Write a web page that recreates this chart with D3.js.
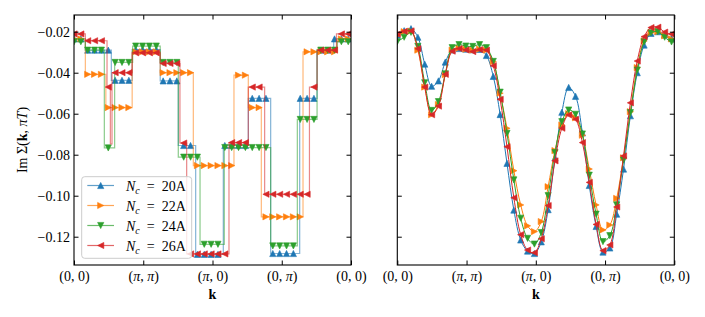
<!DOCTYPE html>
<html>
<head>
<meta charset="utf-8">
<script src="https://cdn.jsdelivr.net/npm/d3@7"></script>
<style>
    body { margin: 0; background: #fff; }
    svg text { font-family: "Liberation Serif", "DejaVu Serif", serif; font-size: 14px; fill: #000; }
</style>
</head>
<body>
<div id="chart"></div>
<script>
// series
const clusters = ["20A", "22A", "24A", "26A"];
const colors = ["#1f77b4", "#ff7f0e", "#2ca02c", "#d62728"];
const markerTypes = ["up", "right", "down", "left"];

// axis ticks
const kTicks = [0, 1, 2, 3, 4];
const kTickLabels = ["(0, 0)", "(π, π)", "(π, 0)", "(0, π)", "(0, 0)"];
const yTicks = [-0.12, -0.10, -0.08, -0.06, -0.04, -0.02];

// left panel: piecewise constant cluster self-energy (patch edges along k, level per patch)
const edges20 = [0, 0.164, 0.539, 0.84, 1.245, 1.506, 1.757, 2.156, 2.517, 2.84, 3.259, 3.51, 3.75];
const levels20 = [-0.0235, -0.029, -0.0437, -0.0287, -0.044, -0.0755, -0.1286, -0.0755, -0.0525, -0.1282, -0.0525, -0.029, -0.0235];

const edges22 = [0, 0.164, 0.46, 0.84, 1.245, 1.723, 2.31, 2.517, 2.705, 3.307, 3.80];
const levels22 = [-0.0235, -0.0408, -0.057, -0.0298, -0.040, -0.0853, -0.0412, -0.057, -0.1103, -0.0298, -0.0235];

const edges24 = [0, 0.164, 0.438, 0.587, 0.847, 1.245, 1.506, 1.82, 2.17, 2.84, 3.225, 3.51, 3.80];
const levels24 = [-0.0249, -0.029, -0.0767, -0.035, -0.027, -0.035, -0.0812, -0.1237, -0.0765, -0.1245, -0.0628, -0.029, -0.0249];

const edges26 = [0, 0.164, 0.477, 0.525, 0.549, 0.84, 1.245, 1.53, 1.627, 2.238, 2.517, 2.753, 3.40, 3.51, 3.79];
const levels26 = [-0.0211, -0.0244, -0.047, -0.0747, -0.040, -0.0303, -0.0355, -0.0743, -0.1284, -0.0741, -0.047, -0.0993, -0.047, -0.029, -0.0211];

// right panel: interpolated self-energy at the marker points, last value is k = 4
const interp20 = [-0.0217, -0.0195, -0.0185, -0.0227, -0.0358, -0.0466, -0.0440, -0.0348, -0.0289, -0.0282,
    -0.0285, -0.0288, -0.0286, -0.0316, -0.0418, -0.0604, -0.0842, -0.1070, -0.1216, -0.1270,
    -0.1282, -0.1225, -0.1068, -0.0815, -0.0593, -0.0472, -0.0515, -0.0694, -0.0950, -0.1150,
    -0.1275, -0.1255, -0.1090, -0.0870, -0.0610, -0.0400, -0.0265, -0.0208, -0.0200, -0.0215,
    -0.0232, -0.0235];
const interp22 = [-0.0217, -0.0200, -0.0197, -0.0290, -0.0470, -0.0605, -0.0555, -0.0410, -0.0290, -0.0280,
    -0.0285, -0.0290, -0.0285, -0.0290, -0.0346, -0.0500, -0.0671, -0.0878, -0.1045, -0.1147,
    -0.1175, -0.1126, -0.0956, -0.0780, -0.0655, -0.0600, -0.0620, -0.0705, -0.0870, -0.1045,
    -0.1167, -0.1143, -0.1013, -0.0815, -0.0590, -0.0375, -0.0245, -0.0205, -0.0200, -0.0220,
    -0.0235, -0.0237];
const interp24 = [-0.0249, -0.0227, -0.0203, -0.0272, -0.0449, -0.0584, -0.0541, -0.0405, -0.0278, -0.0263,
    -0.0270, -0.0272, -0.0263, -0.0278, -0.0345, -0.0495, -0.0696, -0.0923, -0.1110, -0.1208,
    -0.1236, -0.1180, -0.1000, -0.0790, -0.0639, -0.0582, -0.0603, -0.0699, -0.0900, -0.1090,
    -0.1224, -0.1195, -0.1045, -0.0826, -0.0595, -0.0387, -0.0250, -0.0205, -0.0200, -0.0227,
    -0.0250, -0.0250];
const interp26 = [-0.0212, -0.0198, -0.0196, -0.0283, -0.0470, -0.0605, -0.0563, -0.0408, -0.0295, -0.0282,
    -0.0289, -0.0297, -0.0287, -0.0290, -0.0366, -0.0530, -0.0761, -0.1010, -0.1190, -0.1265,
    -0.1278, -0.1210, -0.1048, -0.0830, -0.0671, -0.0606, -0.0627, -0.0741, -0.0935, -0.1140,
    -0.1268, -0.1240, -0.1055, -0.0806, -0.0547, -0.0343, -0.0224, -0.0180, -0.0178, -0.0202,
    -0.0212, -0.0212];

const stepEdges = [edges20, edges22, edges24, edges26];
const stepLevels = [levels20, levels22, levels24, levels26];
const interpValues = [interp20, interp22, interp24, interp26];

// marker sampling along the k path
const markerStep = 0.099;
const markerK = d3.range(41).map(j => j * markerStep);
const lineK = markerK.concat([4]);

const width = 705, height = 317;
const plotTop = 15, plotBottom = 265;

const svg = d3.select("#chart").append("svg")
    .attr("width", width)
    .attr("height", height);

const y = d3.scaleLinear().domain([-0.1338, -0.01185]).range([plotBottom, plotTop]);
const xLeft = d3.scaleLinear().domain([0, 4]).range([74, 351]);
const xRight = d3.scaleLinear().domain([0, 4]).range([397.3, 674.3]);

function markerPath(type, r) {
    if (type === "up") return `M0,${-r}L${r},${r}L${-r},${r}Z`;
    if (type === "down") return `M0,${r}L${r},${-r}L${-r},${-r}Z`;
    if (type === "right") return `M${r},0L${-r},${-r}L${-r},${r}Z`;
    return `M${-r},0L${r},${-r}L${r},${r}Z`;
}

function stepValue(edges, levels, k) {
    const i = d3.bisectRight(edges, k) - 1;
    return levels[Math.max(0, i)];
}

// clip regions
const defs = svg.append("defs");
[xLeft, xRight].forEach((x, p) => {
    defs.append("clipPath").attr("id", "clip" + p)
        .append("rect")
        .attr("x", x.range()[0]).attr("y", plotTop)
        .attr("width", x.range()[1] - x.range()[0]).attr("height", plotBottom - plotTop);
});

// left panel: step lines
const stepLine = d3.line()
    .x(d => xLeft(d[0]))
    .y(d => y(d[1]))
    .curve(d3.curveStepAfter);

const leftG = svg.append("g").attr("clip-path", "url(#clip0)");
clusters.forEach((c, s) => {
    const edges = stepEdges[s], levels = stepLevels[s];
    const pts = edges.map((e, i) => [e, levels[i]]).concat([[4, levels[levels.length - 1]]]);
    const g = leftG.append("g");
    g.append("path")
        .attr("d", stepLine(pts))
        .attr("fill", "none")
        .attr("stroke", colors[s])
        .attr("stroke-width", 1.2)
        .attr("stroke-opacity", 0.55);
    g.selectAll("path.mk")
        .data(markerK)
        .join("path")
        .attr("class", "mk")
        .attr("transform", k => `translate(${xLeft(k)},${y(stepValue(edges, levels, k))})`)
        .attr("d", markerPath(markerTypes[s], 3.1))
        .attr("fill", colors[s])
        .attr("stroke", colors[s])
        .attr("stroke-width", 0.6);
});

// right panel: smooth lines
const smoothLine = d3.line()
    .x((d, i) => xRight(lineK[i]))
    .y(d => y(d))
    .curve(d3.curveCatmullRom.alpha(0.5));

const rightG = svg.append("g").attr("clip-path", "url(#clip1)");
clusters.forEach((c, s) => {
    const vals = interpValues[s];
    const g = rightG.append("g");
    g.append("path")
        .attr("d", smoothLine(vals))
        .attr("fill", "none")
        .attr("stroke", colors[s])
        .attr("stroke-width", 1);
    g.selectAll("path.mk")
        .data(markerK)
        .join("path")
        .attr("class", "mk")
        .attr("transform", (k, j) => `translate(${xRight(k)},${y(vals[j])})`)
        .attr("d", markerPath(markerTypes[s], 3.1))
        .attr("fill", colors[s])
        .attr("stroke", colors[s])
        .attr("stroke-width", 0.6);
});

// math-ish labels: pi and latin letters in italics
function mathLabel(textSel, str) {
    textSel.text(null);
    str.match(/[πA-Za-z]+|[^πA-Za-z]+/g).forEach(run => {
        textSel.append("tspan")
            .attr("font-style", /[πA-Za-z]/.test(run) ? "italic" : null)
            .text(run);
    });
}

function styleAxis(g) {
    g.select(".domain").remove();
    g.attr("font-family", null).attr("font-size", null);
    g.selectAll(".tick line").attr("stroke", "#000").attr("stroke-width", 1);
}

[xLeft, xRight].forEach((x, p) => {
    const x0 = x.range()[0], x1 = x.range()[1];

    svg.append("g")
        .attr("transform", `translate(0,${plotBottom})`)
        .call(d3.axisBottom(x).tickValues(kTicks).tickSize(-4.5).tickPadding(6.5))
        .call(styleAxis)
        .selectAll(".tick text")
        .each(function (d, i) { mathLabel(d3.select(this), kTickLabels[i]); });

    svg.append("g")
        .attr("transform", `translate(0,${plotTop})`)
        .call(d3.axisTop(x).tickValues(kTicks).tickSize(-4.5).tickFormat(""))
        .call(styleAxis);

    const leftAxis = d3.axisLeft(y).tickValues(yTicks).tickSize(-4.5).tickPadding(4);
    if (p === 1) leftAxis.tickFormat("");
    else leftAxis.tickFormat(d3.format(".2f"));
    svg.append("g")
        .attr("transform", `translate(${x0},0)`)
        .call(leftAxis)
        .call(styleAxis);

    svg.append("g")
        .attr("transform", `translate(${x1},0)`)
        .call(d3.axisRight(y).tickValues(yTicks).tickSize(-4.5).tickFormat(""))
        .call(styleAxis);

    // frame
    svg.append("rect")
        .attr("x", x0).attr("y", plotTop)
        .attr("width", x1 - x0).attr("height", plotBottom - plotTop)
        .attr("fill", "none")
        .attr("stroke", "#000")
        .attr("stroke-width", 1.1);

    // x label
    svg.append("text")
        .attr("x", (x0 + x1) / 2)
        .attr("y", 299)
        .attr("text-anchor", "middle")
        .attr("font-weight", "bold")
        .text("k");
});

// y label
const yLabel = svg.append("text")
    .attr("transform", `translate(27,${(plotTop + plotBottom) / 2}) rotate(-90)`)
    .attr("text-anchor", "middle");
yLabel.append("tspan").text("Im Σ(");
yLabel.append("tspan").attr("font-weight", "bold").text("k");
yLabel.append("tspan").text(", ");
yLabel.append("tspan").attr("font-style", "italic").text("πT");
yLabel.append("tspan").text(")");

// legend
const legend = svg.append("g");
legend.append("rect")
    .attr("x", 81.7).attr("y", 176.7)
    .attr("width", 110).attr("height", 81.6)
    .attr("rx", 3)
    .attr("fill", "#fff").attr("fill-opacity", 0.8)
    .attr("stroke", "#cccccc").attr("stroke-width", 1);

clusters.forEach((c, s) => {
    const ry = 185.5 + s * 20;
    const item = legend.append("g");
    item.append("line")
        .attr("x1", 87.3).attr("x2", 114)
        .attr("y1", ry).attr("y2", ry)
        .attr("stroke", colors[s])
        .attr("stroke-width", 1.2)
        .attr("stroke-opacity", 0.7);
    item.append("path")
        .attr("transform", `translate(100.7,${ry})`)
        .attr("d", markerPath(markerTypes[s], 3.1))
        .attr("fill", colors[s])
        .attr("stroke", colors[s])
        .attr("stroke-width", 0.6);
    const t = item.append("text")
        .attr("x", 126).attr("y", ry + 5);
    t.append("tspan").attr("font-style", "italic").text("N");
    t.append("tspan").attr("font-style", "italic").attr("font-size", "10px").attr("dy", 3).text("c");
    t.append("tspan").attr("dy", -3).text("\u2002=\u2002" + c);
});
</script>
</body>
</html>
